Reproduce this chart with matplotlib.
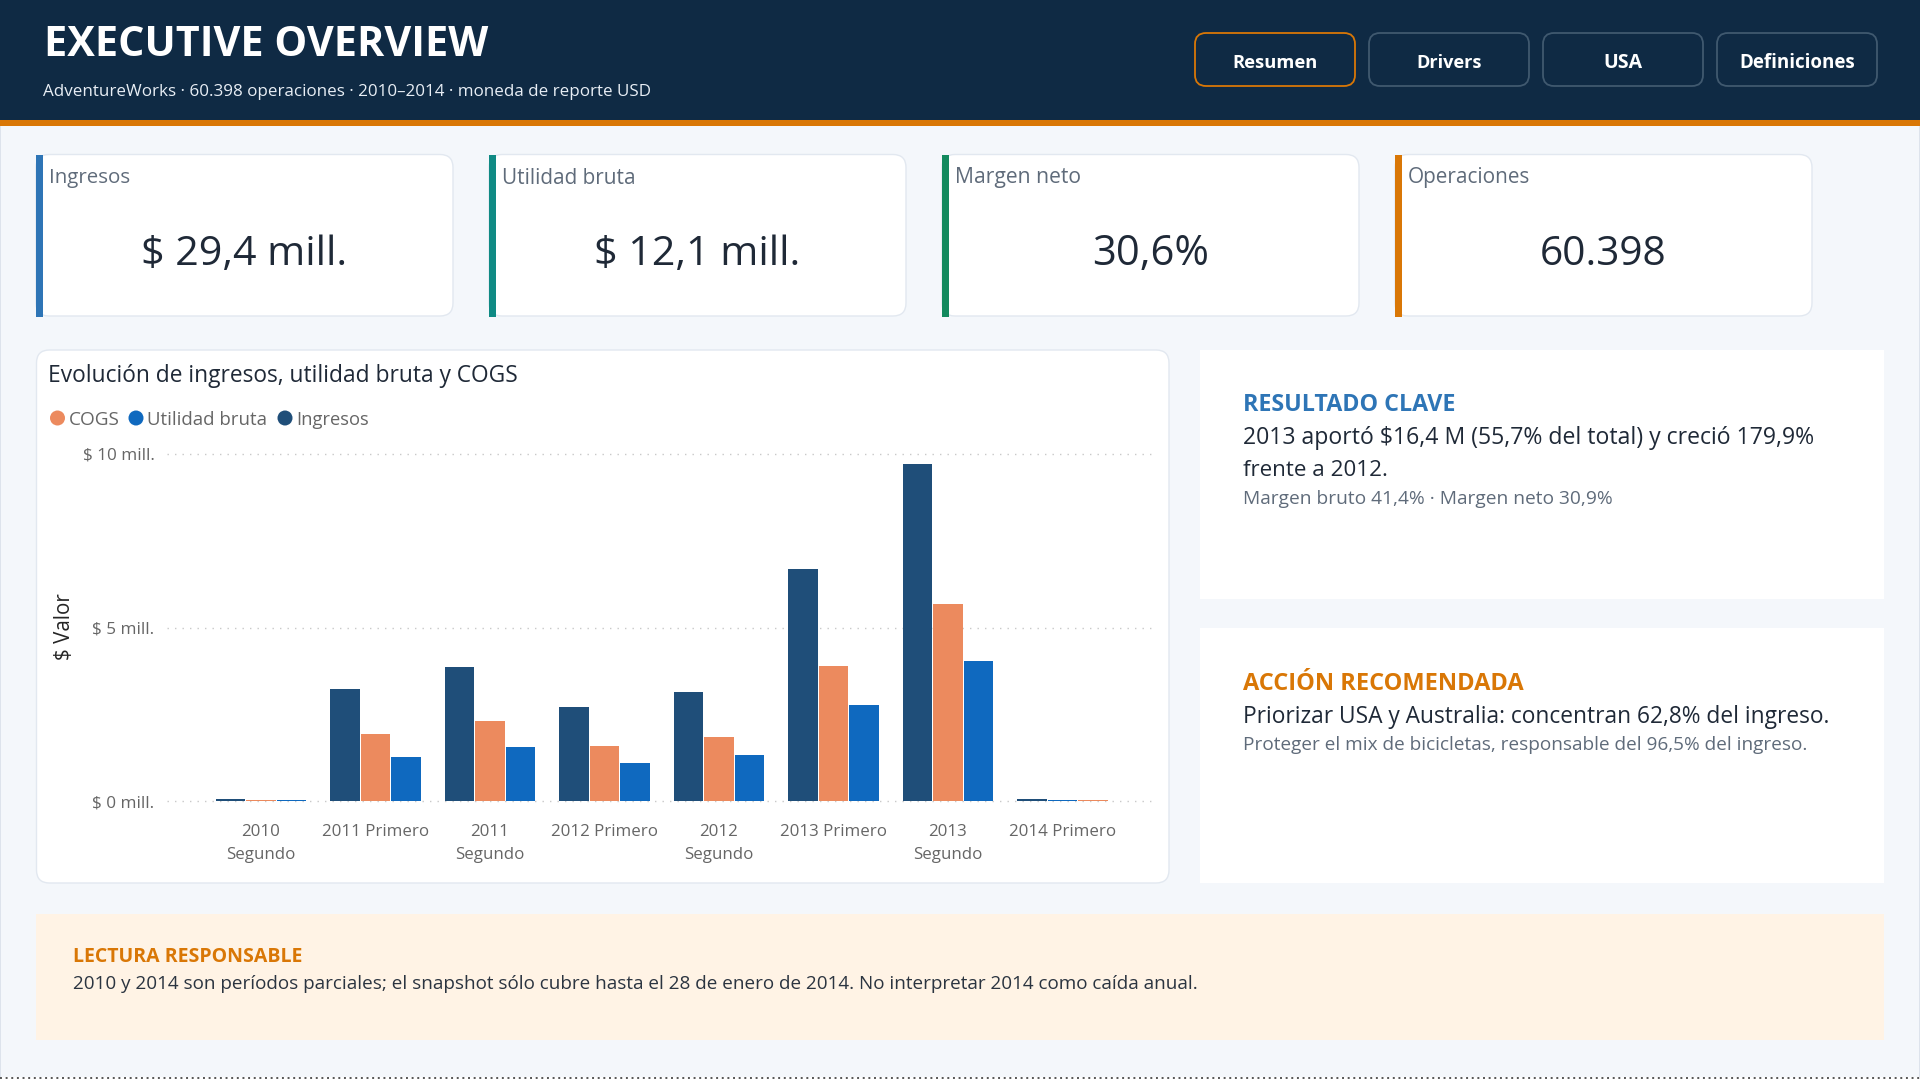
import numpy as np
import matplotlib
matplotlib.use("Agg")
import matplotlib.pyplot as plt
from matplotlib.patches import FancyBboxPatch, Rectangle, Circle

plt.rcParams["font.family"] = ["Open Sans", "DejaVu Sans"]

# Datos (millones de USD)
periodos = ["2010\nSegundo", "2011 Primero", "2011\nSegundo", "2012 Primero",
            "2012\nSegundo", "2013 Primero", "2013\nSegundo", "2014 Primero"]
ingresos = [0.06, 3.24, 3.86, 2.70, 3.15, 6.67, 9.71, 0.06]
cogs = [0.05, 1.94, 2.30, 1.59, 1.84, 3.90, 5.69, 0.045]
utilidad = [0.045, 1.29, 1.55, 1.11, 1.33, 2.76, 4.03, 0.05]
y_ticks = [0, 5, 10]
y_labels = ["$ 0 mill.", "$ 5 mill.", "$ 10 mill."]

kpi_nombres = ["Ingresos", "Utilidad bruta", "Margen neto", "Operaciones"]
kpi_valores = ["$ 29,4 mill.", "$ 12,1 mill.", "30,6%", "60.398"]
botones = ["Resumen", "Drivers", "USA", "Definiciones"]

NAVY = "#0F2A44"
ORANGE = "#D97706"
BG = "#F4F7FB"
BORDER = "#E2E8F0"
DARK = "#1F2937"
GREY = "#5F6B7A"
C_ING = "#1F4E79"
C_COGS = "#EC8A5E"
C_UTIL = "#0F69BF"

W, H = 1920, 1080
fig = plt.figure(figsize=(19.2, 10.8), dpi=100, facecolor="white")

# Capa de fondo en pixeles para paneles y textos
bg = fig.add_axes([0, 0, 1, 1], zorder=0)
bg.set_xlim(0, W)
bg.set_ylim(H, 0)
bg.axis("off")
renderer = fig.canvas.get_renderer()


def rect(x0, y0, x1, y1, color):
    bg.add_patch(Rectangle((x0, y0), x1 - x0, y1 - y0, facecolor=color, edgecolor="none"))


def card(x0, y0, x1, y1, face="white", edge=BORDER, r=13, lw=1.0):
    bg.add_patch(FancyBboxPatch((x0 + r, y0 + r), x1 - x0 - 2 * r, y1 - y0 - 2 * r,
                                boxstyle=f"round,pad={r},rounding_size={r}",
                                facecolor=face, edgecolor=edge, linewidth=lw))


# px es la altura de letra en pixeles; width ajusta al ancho medido en la referencia
def label(x, y, s, px, color=DARK, weight="normal", ha="left", width=None):
    t = bg.text(x, y, s, fontsize=px * 0.72, color=color, fontweight=weight, ha=ha, va="baseline")
    if width:
        w_now = t.get_window_extent(renderer).width
        t.set_fontsize(px * 0.72 * width / w_now)
    return t


# Fondo general
rect(0, 0, W, 1077, BG)
rect(0, 0, 1, 1077, "#DDE3EC")
rect(W - 1, 0, W, 1077, "#DDE3EC")
bg.plot([0, W], [1077.5, 1077.5], color="#555555", lw=1.4, linestyle=(0, (1, 1.9)))

# Cabecera
rect(0, 0, W, 120, NAVY)
rect(0, 120, W, 126, ORANGE)
label(43.5, 56, "EXECUTIVE OVERVIEW", 40, "white", "bold", width=444)
label(43, 96, "AdventureWorks · 60.398 operaciones · 2010–2014 · moneda de reporte USD", 18,
      "#E8EEF5", width=606)

boton_x = [1195, 1369, 1543, 1717]
boton_w = [85, 66, 39, 116]
for i, nombre in enumerate(botones):
    x0 = boton_x[i]
    card(x0, 33, x0 + 160, 86, NAVY, ORANGE if i == 0 else "#40596F", r=11, lw=1.3)
    label(x0 + 80, 68, nombre, 19, "white", "bold", ha="center", width=boton_w[i])

# Tarjetas KPI
kpi_x = [36, 489, 942, 1395]
kpi_colores = ["#2E75B6", "#0F8A84", "#138A5E", ORANGE]
kpi_label_w = [81, 133, 126, 122]
kpi_valor_w = [206, 206, 117, 127]
for i in range(4):
    x0 = kpi_x[i]
    card(x0, 154.5, x0 + 417, 316)
    rect(x0, 154.5, x0 + 7, 316.5, kpi_colores[i])
    label(x0 + 13, 183.5, kpi_nombres[i], 21, GREY, width=kpi_label_w[i])
    label(x0 + 208.5, 265, kpi_valores[i], 44, DARK, ha="center", width=kpi_valor_w[i])

# Tarjeta del grafico
card(36.5, 350, 1169, 883)
label(48.5, 382, "Evolución de ingresos, utilidad bruta y COGS", 23, DARK, width=469)

leyenda = [("COGS", C_COGS, 57.5, 51), ("Utilidad bruta", C_UTIL, 136, 120), ("Ingresos", C_ING, 285, 73)]
for nombre, color, cx, ancho in leyenda:
    bg.add_patch(Circle((cx, 418), 7.5, facecolor=color, edgecolor="none"))
    label(cx + 11, 425, nombre, 20, "#666666", width=ancho)
bg.text(65, 627, "$ Valor", fontsize=14.8, color="#252525", rotation=90, ha="center", va="center")

# Paneles de la derecha
rect(1200, 349.5, 1884, 598.5, "white")
rect(1200, 628, 1884, 883, "white")
label(1243, 411, "RESULTADO CLAVE", 23, "#2E75B6", "bold", width=213)
label(1243, 444, "2013 aportó $16,4 M (55,7% del total) y creció 179,9%", 24, DARK, width=571)
label(1243, 476, "frente a 2012.", 24, DARK, width=145)
label(1243, 504, "Margen bruto 41,4% · Margen neto 30,9%", 19, GREY, width=369)
label(1243, 690, "ACCIÓN RECOMENDADA", 23, ORANGE, "bold", width=281)
label(1243, 723, "Priorizar USA y Australia: concentran 62,8% del ingreso.", 24, DARK, width=587)
label(1243, 750, "Proteger el mix de bicicletas, responsable del 96,5% del ingreso.", 19, GREY, width=563)

# Nota inferior
rect(36, 913.5, 1884, 1040, "#FFF3E5")
label(73, 962, "LECTURA RESPONSABLE", 20, ORANGE, "bold", width=229)
label(73, 989, "2010 y 2014 son períodos parciales; el snapshot sólo cubre hasta el 28 de enero de 2014. "
      "No interpretar 2014 como caída anual.", 20, "#2B3440", width=1131)

# Barras: dentro de cada periodo van ordenadas de mayor a menor
left, right, top, bottom = 167, 1152.5, 453.6, 801.4
ax = fig.add_axes([left / W, 1 - bottom / H, (right - left) / W, (bottom - top) / H], zorder=1)
ax.patch.set_alpha(0)

valores = np.array([ingresos, cogs, utilidad])
colores = np.array([C_ING, C_COGS, C_UTIL])
paso = 0.2667
for i in range(len(periodos)):
    orden = np.argsort(-valores[:, i])
    for j, serie in enumerate(orden):
        ax.bar(i + (j - 1) * paso, valores[serie, i], width=paso * 0.97, color=colores[serie],
               linewidth=0, zorder=3)

ax.set_xlim(-0.82, 7.787)
ax.set_ylim(0, 10)
ax.set_yticks(y_ticks)
ax.set_yticklabels(y_labels, fontsize=12.3, color="#666666")
ax.set_xticks(range(len(periodos)))
ax.set_xticklabels(periodos, fontsize=12.2, color="#666666", linespacing=1.58)
ax.tick_params(axis="both", length=0)
ax.tick_params(axis="y", pad=9)
ax.tick_params(axis="x", pad=16.5)
ax.grid(axis="y", color="#C9C9C9", linewidth=1, linestyle=(0, (1, 4.4)), clip_on=False, zorder=1)
ax.set_axisbelow(True)
for s in ax.spines.values():
    s.set_visible(False)

fig.savefig("out.png", dpi=100, facecolor=fig.get_facecolor())
